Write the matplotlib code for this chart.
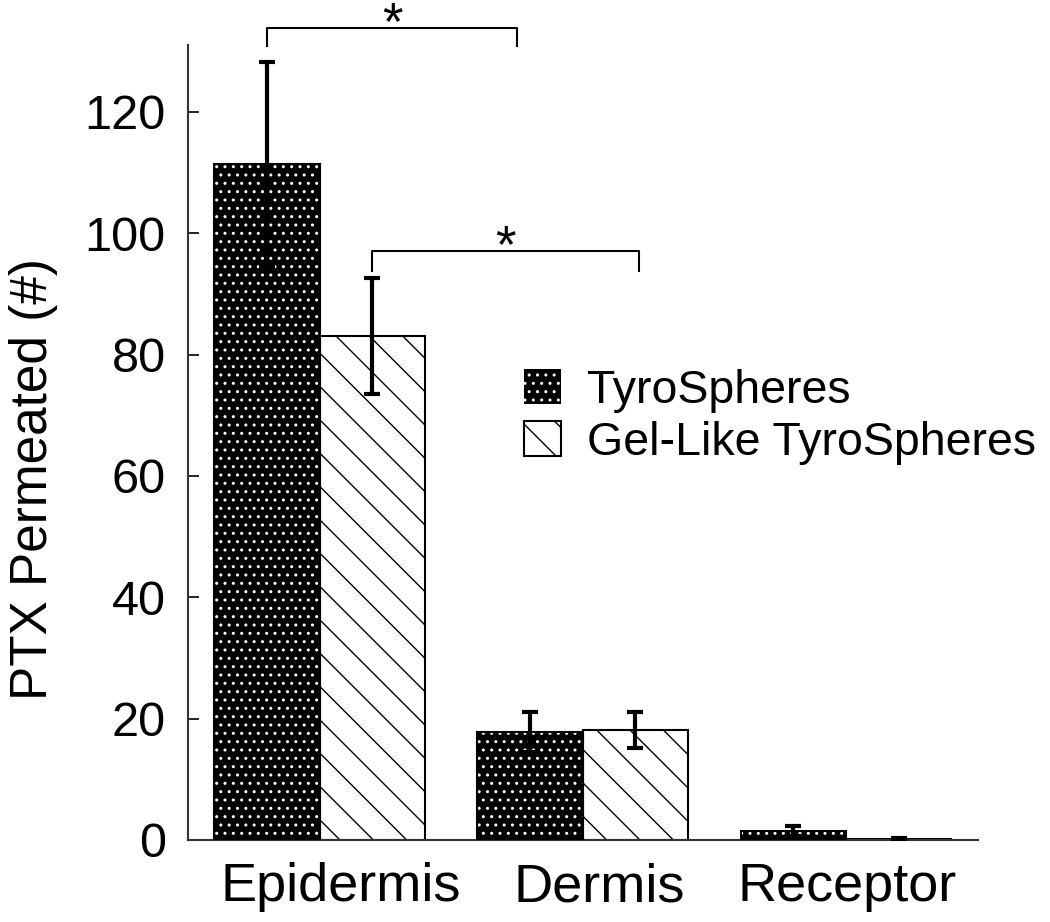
import numpy as np
import matplotlib
matplotlib.use("Agg")
import matplotlib.pyplot as plt
import matplotlib.transforms as mtransforms
from matplotlib.patches import Patch

plt.rcParams['font.family'] = ['Liberation Sans', 'DejaVu Sans']
plt.rcParams['hatch.linewidth'] = 1.0

# data
categories = ["Epidermis", "Dermis", "Receptor"]
series = ["TyroSpheres", "Gel-Like TyroSpheres"]
tyro_mean = [111.4, 17.8, 1.5]
tyro_err = [16.8, 3.3, 0.8]
gel_mean = [83.1, 18.1, 0.2]
gel_err = [9.6, 3.0, 0.1]

x = np.arange(len(categories))
w = 0.4

fig = plt.figure(figsize=(10.5, 9.22), dpi=100)
ax = fig.add_axes([0.179, 0.089, 0.752, 0.862])

# TyroSpheres: black with white dots (hatch drawn in white, outline drawn separately)
ax.bar(x - w / 2, tyro_mean, w, color="black", edgecolor="white", hatch="..",
       linewidth=0, zorder=2)
ax.bar(x - w / 2, tyro_mean, w, fill=False, edgecolor="black", linewidth=1.5, zorder=3)
# Gel-like: white with diagonal lines
ax.bar(x + w / 2, gel_mean, w, color="white", edgecolor="black", hatch="\\",
       linewidth=1.5, zorder=2)

ax.errorbar(x - w / 2, tyro_mean, yerr=tyro_err, fmt="none", ecolor="black",
            elinewidth=3, capsize=6, capthick=3, zorder=4)
ax.errorbar(x + w / 2, gel_mean, yerr=gel_err, fmt="none", ecolor="black",
            elinewidth=3, capsize=6, capthick=3, zorder=4)

# significance brackets
brackets = [(-0.2, 0.75, 130.9, 133.8), (0.2, 1.215, 93.8, 97.1)]
for x1, x2, ylo, yhi in brackets:
    ax.plot([x1, x1, x2, x2], [ylo, yhi, yhi, ylo], color="black", lw=1.5,
            clip_on=False, zorder=5)
    ax.annotate("*", xy=((x1 + x2) / 2, yhi), xytext=(0, -8),
                textcoords="offset points", ha="center", va="baseline",
                fontsize=38, annotation_clip=False)

ax.set_xlim(-0.5, 2.5)
ax.set_ylim(0, 131)
ax.set_yticks(np.arange(0, 121, 20))
ax.set_xticks(x)
ax.set_xticklabels(categories)
ax.tick_params(axis="y", direction="in", length=8, width=1.2, labelsize=35, pad=16)
ax.tick_params(axis="x", length=0, labelsize=39, pad=16)
ax.set_ylabel("PTX Permeated (#)", fontsize=37)
ax.yaxis.set_label_coords(-0.165, 0.454)

# the category labels sit a little right of the group centres in the original
for lab, dx in zip(ax.get_xticklabels(), [15, 12, 1]):
    lab.set_transform(lab.get_transform() +
                      mtransforms.ScaledTranslation(dx / 72, 0, fig.dpi_scale_trans))

for s in ["top", "right"]:
    ax.spines[s].set_visible(False)
for s in ["left", "bottom"]:
    ax.spines[s].set_color("#333333")
    ax.spines[s].set_linewidth(1.5)

handles = [Patch(facecolor="black", edgecolor="white", hatch="..", linewidth=0),
           Patch(facecolor="white", edgecolor="black", hatch="\\", linewidth=1.5)]
ax.legend(handles, series, loc="upper left", bbox_to_anchor=(0.425, 0.593),
          frameon=False, fontsize=33.5, handlelength=0.8, handleheight=0.8,
          handletextpad=0.56, labelspacing=0.17, borderpad=0, borderaxespad=0)

fig.savefig("out.png", dpi=100)
